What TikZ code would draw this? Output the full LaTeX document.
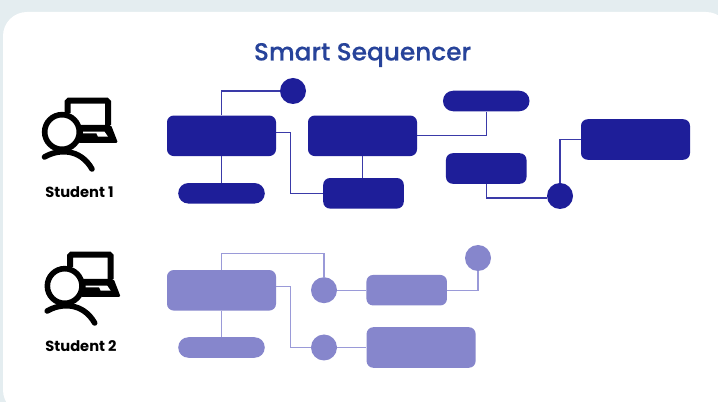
\documentclass[tikz,border=0pt]{standalone}
\usepackage{fontspec}
\setmainfont{Poppins}[UprightFont=* Medium,BoldFont=* Bold]
\newfontfamily\titlefont{Poppins}[UprightFont=* Medium,FakeBold=0.3]
\definecolor{seqdark}{HTML}{1E1E99}
\definecolor{seqlineA}{HTML}{3A3AA8}
\definecolor{seqlight}{HTML}{8686CC}
\definecolor{seqlineB}{HTML}{9A9AD8}
\definecolor{seqtitle}{HTML}{27439A}
\definecolor{seqback}{HTML}{E4EDF0}
\tikzset{
  bigbox/.style={minimum width=81.75pt,minimum height=30.4pt,inner sep=0pt,rounded corners=5pt},
  midbox/.style={minimum width=60.4pt,minimum height=22.9pt,inner sep=0pt,rounded corners=5pt},
  pillbox/.style={minimum width=64.9pt,minimum height=15.4pt,inner sep=0pt,rounded corners=7.6pt},
  dotnode/.style={circle,minimum size=19.5pt,inner sep=0pt},
  darkpart/.style={fill=seqdark},
  lightpart/.style={fill=seqlight},
  darkline/.style={draw=seqlineA,line width=1pt},
  lightline/.style={draw=seqlineB,line width=1pt},
  studentlabel/.style={font=\bfseries\fontsize{11}{13}\selectfont,text=black},
  studenticon/.pic={
    %laptop
    \draw[line width=4.5pt,rounded corners=1pt] (5.5,-19) -- (5.5,-31.3) -- (46,-31.3) -- (46,-7);
    \fill[rounded corners=1.2pt] (16,-7) -- (49,-7) -- (56,11) -- (16,11) -- cycle;
    \fill[white] (21,-0.3) -- (42.5,-0.3) -- (46,4.7) -- (36,4.7) -- (34.5,1.5) -- (21,1.5) -- cycle;
    %head and shoulders
    \draw[line width=4.2pt,fill=white] (0,0) circle (13pt);
    \draw[line width=4.2pt,line cap=round] (-17.5,25) .. controls (-4,17) and (18,16) .. (30,37);
  }
}
\begin{document}
\begin{tikzpicture}[x=0.75pt,y=0.75pt,yscale=-1]
\useasboundingbox (0,0) rectangle (718,402);

%Card
\fill[seqback] (0,0) rectangle (718,402);
\fill[white,rounded corners=18pt] (3,12) rectangle (730,414);

% Text Node
\node (title) at (362.5,55) [text=seqtitle,font=\titlefont\fontsize{18.6}{23}\selectfont] {Smart Sequencer};

%Student icons
\path (62,132) pic[yscale=-1] {studenticon};
\path (64.7,286) pic[yscale=-1] {studenticon};

% Text Node
\node (labela) at (79.5,192) [studentlabel] {Student 1};
% Text Node
\node (labelb) at (81,346.5) [studentlabel] {Student 2};

%Student 1 shapes
\node (boxa) at (221.5,135.8) [bigbox,darkpart] {};
\node (pilla) at (221.5,193.3) [pillbox,darkpart] {};
\node (dota) at (293,91) [dotnode,darkpart] {};
\node (boxb) at (362.5,135.8) [bigbox,darkpart] {};
\node (boxc) at (363.5,193.3) [midbox,darkpart] {};
\node (pillb) at (486.25,101) [pillbox,darkpart] {};
\node (boxd) at (486.25,168.5) [midbox,darkpart] {};
\node (dotb) at (560,196) [dotnode,darkpart] {};
\node (boxe) at (635.5,139.5) [bigbox,darkpart] {};

%Student 1 lines
\draw[darkline] (boxa.north) |- (dota.west);
\draw[darkline] (boxa.south) -- (pilla.north);
\draw[darkline] ([yshift=-2.4pt]boxa.east) -- ++(14,0) |- (boxc.west);
\draw[darkline] (boxb.south) -- (boxb.south |- boxc.north);
\draw[darkline] (boxb.east) -| (pillb.south);
\draw[darkline] (boxd.south) |- ([yshift=1.5pt]dotb.west);
\draw[darkline] (dotb.north) |- (boxe.west);

%Student 2 shapes
\node (boxf) at (221.5,290.3) [bigbox,lightpart] {};
\node (pillc) at (221.5,347.5) [pillbox,lightpart] {};
\node (dotc) at (324,290.2) [dotnode,lightpart] {};
\node (boxg) at (406.7,290.2) [midbox,lightpart] {};
\node (dotd) at (478,258) [dotnode,lightpart] {};
\node (dote) at (324,347.5) [dotnode,lightpart] {};
\node (boxh) at (421.1,347.5) [bigbox,lightpart] {};

%Student 2 lines
\draw[lightline] (boxf.north) -- ++(0,-16.5) -| (dotc.north);
\draw[lightline] (boxf.south) -- (pillc.north);
\draw[lightline] ([yshift=-2.6pt]boxf.east) -- ++(14,0) |- (dote.west);
\draw[lightline] (dotc.east) -- (boxg.west);
\draw[lightline] (boxg.east) -| (dotd.south);
\draw[lightline] (dote.east) -- (boxh.west);

\end{tikzpicture}
\end{document}
